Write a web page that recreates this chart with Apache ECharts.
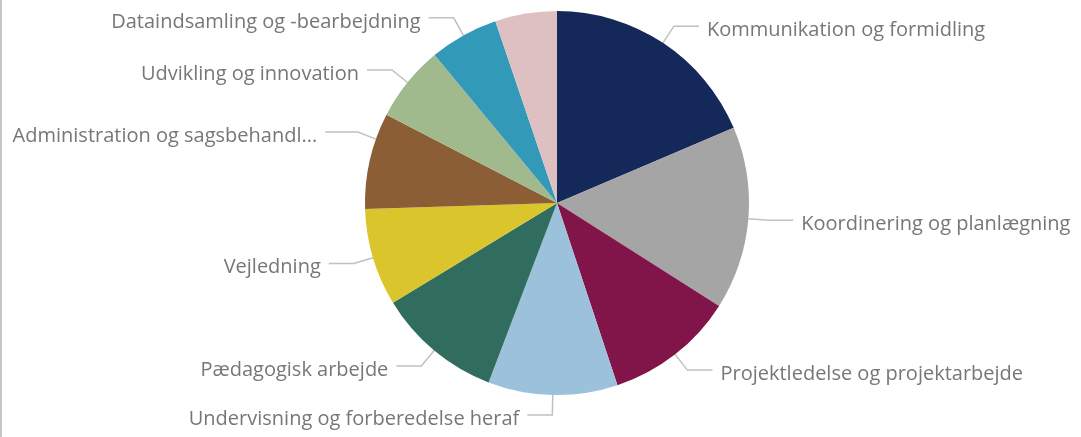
<!DOCTYPE html>
<html>
<head>
<meta charset="utf-8">
<script src="https://cdn.jsdelivr.net/npm/echarts@6/dist/echarts.min.js"></script>
<style>
  html, body { margin: 0; padding: 0; background: #fff; }
  #main { width: 1079px; height: 437px; border-left: 2px solid #c8c8c8; }
</style>
</head>
<body>
<div id="main"></div>
<script>
// kategorier og andele (%)
var categories = [
    'Kommunikation og formidling',
    'Koordinering og planlægning',
    'Projektledelse og projektarbejde',
    'Undervisning og forberedelse heraf',
    'Pædagogisk arbejde',
    'Vejledning',
    'Administration og sagsbehandling',
    'Udvikling og innovation',
    'Dataindsamling og -bearbejdning',
    'Andet'
];
var values = [18.6, 15.4, 10.9, 10.9, 10.5, 8.2, 8.1, 6.4, 5.8, 5.2];
var colors = ['#15285a', '#a5a5a5', '#811549', '#9bc1db', '#306d5e',
              '#dbc52c', '#8b5e35', '#a0ba8e', '#3399b9', '#dfc0c2'];
var hiddenLabels = ['Andet'];
var truncatedLabels = ['Administration og sagsbehandling'];

var cx = 555, cy = 203, r = 192;

var chart = echarts.init(document.getElementById('main'));

var data = [];
for (var i = 0; i < categories.length; i++) {
    var item = { name: categories[i], value: values[i], itemStyle: { color: colors[i] } };
    if (hiddenLabels.indexOf(categories[i]) != -1) {
        item.label = { show: false };
        item.labelLine = { show: false };
    }
    if (truncatedLabels.indexOf(categories[i]) != -1) {
        item.label = { width: 308, overflow: 'truncate', ellipsis: '...' };
    }
    data.push(item);
}

var option = {
    animation: false,
    series: [{
        type: 'pie',
        center: [cx, cy],
        radius: r,
        startAngle: 90,
        clockwise: true,
        data: data,
        label: {
            show: true,
            color: '#777777',
            fontFamily: 'Open Sans',
            fontSize: 20,
            distanceToLabelLine: 8
        },
        labelLine: {
            show: true,
            length: 20,
            length2: 25,
            lineStyle: { color: '#c0c0c0', width: 1.5 }
        },
        labelLayout: function (params) {
            var pts = params.labelLinePoints;
            if (!pts) return;
            // Administration-etiketten sidder lidt højere i originalen
            if (truncatedLabels.indexOf(categories[params.dataIndex]) != -1) {
                var y2 = pts[2][1] - 24;
                var y0 = y2 + 7;
                var x0 = cx - Math.sqrt(r * r - (y0 - cy) * (y0 - cy));
                return {
                    dy: -20,
                    labelLinePoints: [[x0, y0], [x0 - 18, y2], [pts[2][0], y2]]
                };
            }
            return { dy: 4, labelLinePoints: pts };
        },
        itemStyle: { borderWidth: 0 },
        emphasis: { disabled: true }
    }]
};

chart.setOption(option);
</script>
</body>
</html>
